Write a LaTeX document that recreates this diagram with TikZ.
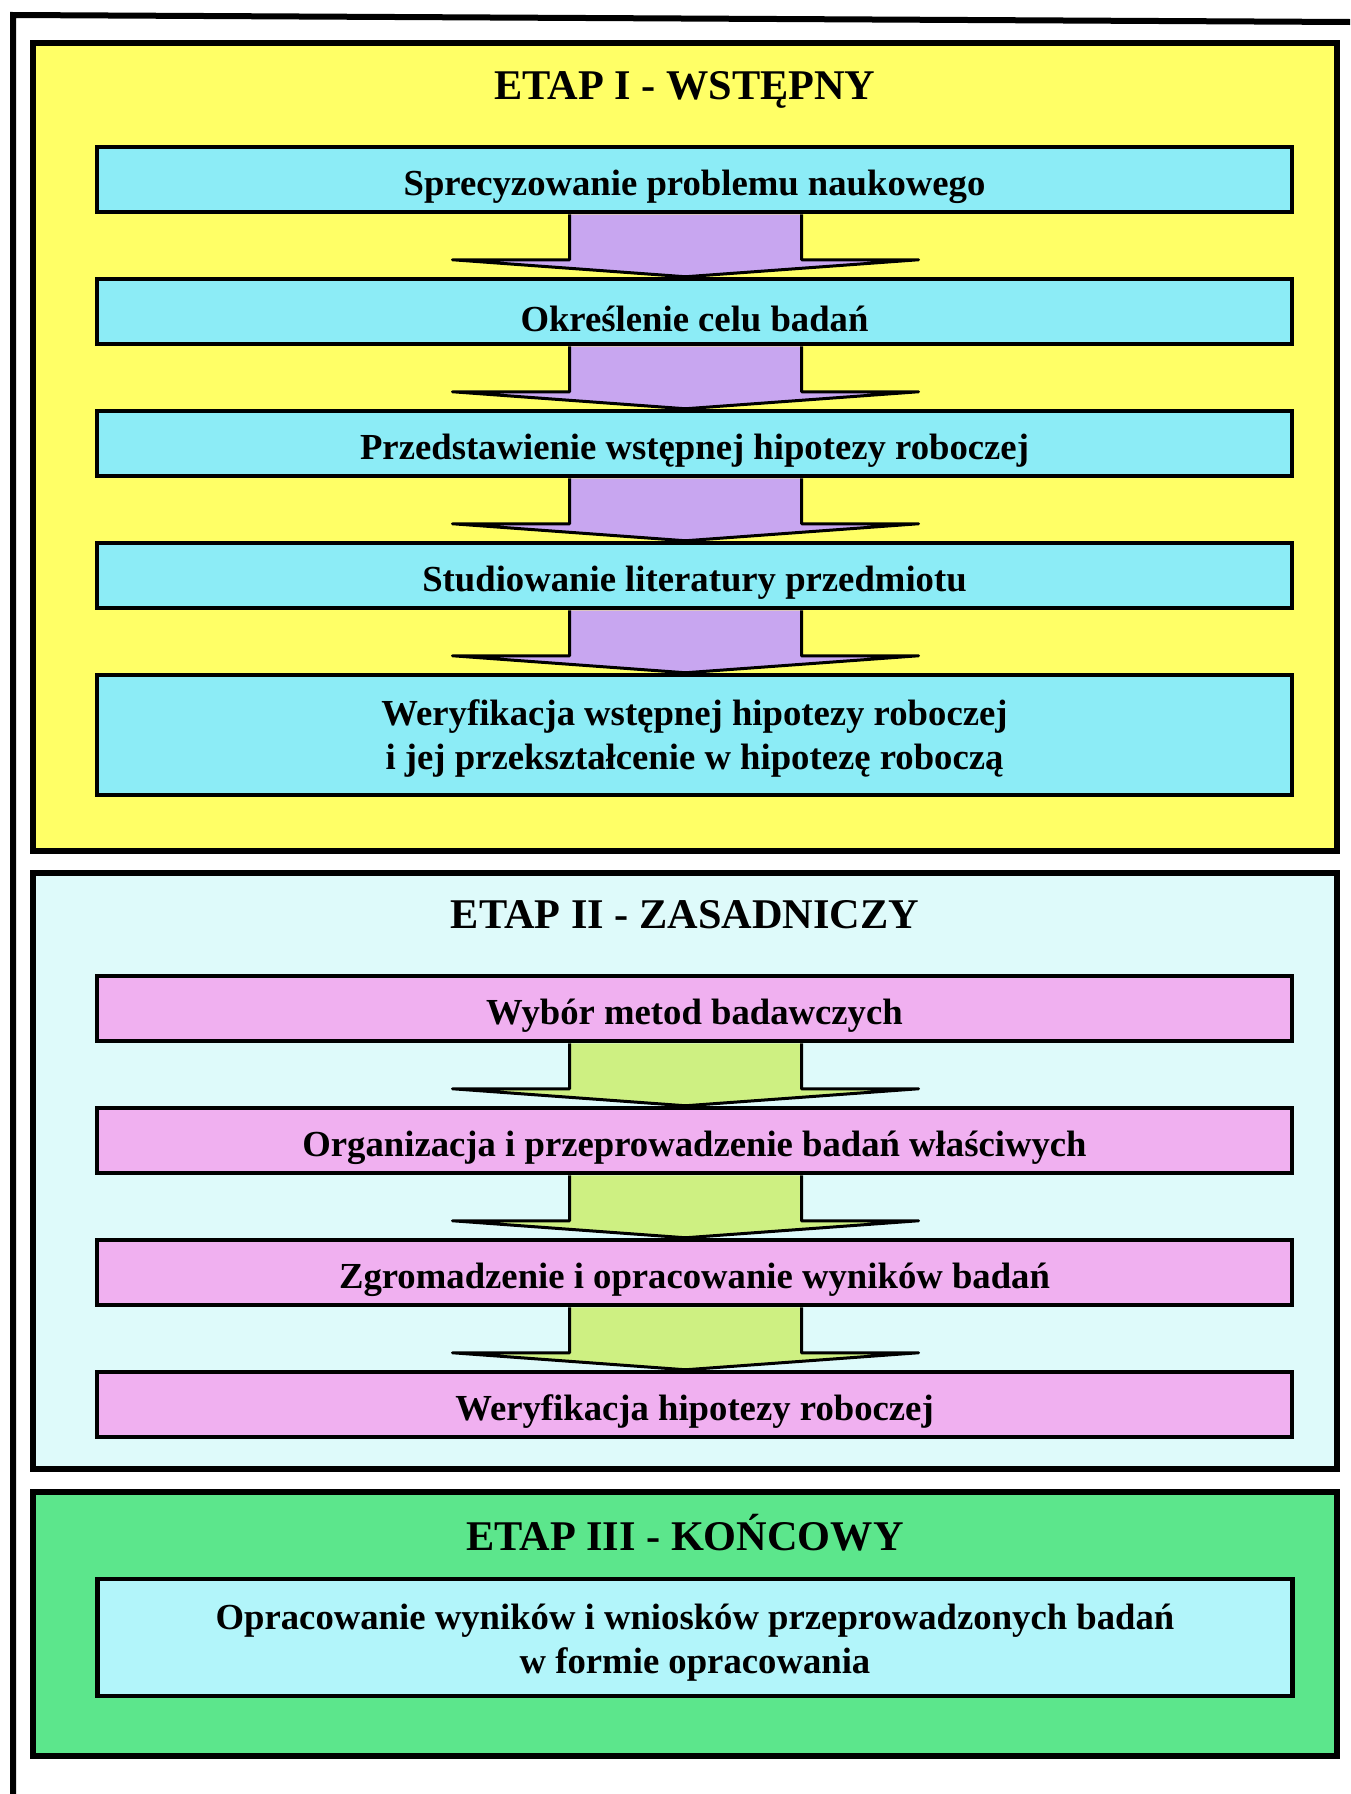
\documentclass[tikz,border=0pt]{standalone}
\usepackage{fontspec}
\setmainfont{Liberation Serif}
\usetikzlibrary{calc}
\definecolor{yelbg}{RGB}{255,255,102}
\definecolor{cyanbox}{RGB}{140,236,246}
\definecolor{purparrow}{RGB}{200,166,240}
\definecolor{lightbg}{RGB}{222,250,250}
\definecolor{pinkbox}{RGB}{240,176,240}
\definecolor{greenarrow}{RGB}{206,240,130}
\definecolor{greenbg}{RGB}{92,230,140}
\definecolor{lastbox}{RGB}{178,245,250}
\newcommand{\dn}[2][7pt]{\raisebox{-#1}[\height][\depth]{#2}}
\begin{document}
\begin{tikzpicture}[x=1pt,y=-1pt,
  stage/.style={draw=black, line width=6pt, minimum width=1304pt, inner sep=0pt},
  stepbox/.style={draw=black, line width=4.5pt, minimum width=1195pt, minimum height=65pt,
    inner sep=0pt, font=\fontsize{36.7}{44}\selectfont\bfseries, align=center},
  stagetitle/.style={font=\fontsize{42.3}{48}\selectfont\bfseries},
  bigarrow/.style={draw=black, line width=3pt, line join=round}]
\useasboundingbox (0,0) rectangle (1350,1794);
\fill[white] (0,0) rectangle (1350,1794);
% outer frame (top and left)
\draw[line width=6pt] (13,1794) -- (13,15) -- (1350,22);
% stages
\node[stage, fill=yelbg, minimum height=808pt] (s1) at (685,447) {};
\node[stage, fill=lightbg, minimum height=596pt] (s2) at (685,1171) {};
\node[stage, fill=greenbg, minimum height=264pt] (s3) at (685,1624) {};
\node[stagetitle] (t1) at (685,90) {ETAP I - WSTĘPNY};
\node[stagetitle] (t2) at (685,915) {ETAP II - ZASADNICZY};
\node[stagetitle] (t3) at (685,1533) {ETAP III - KOŃCOWY};
% stage I boxes
\node[stepbox, fill=cyanbox] (b1) at (694.5,179.5) {\dn{Sprecyzowanie problemu naukowego}};
\node[stepbox, fill=cyanbox] (b2) at (694.5,311.5) {\dn{Określenie celu badań}};
\node[stepbox, fill=cyanbox] (b3) at (694.5,443.5) {\dn{Przedstawienie wstępnej hipotezy roboczej}};
\node[stepbox, fill=cyanbox] (b4) at (694.5,575.5) {\dn{Studiowanie literatury przedmiotu}};
\node[stepbox, fill=cyanbox, minimum height=120pt] (b5) at (694.5,735) {\dn[3pt]{Weryfikacja wstępnej hipotezy roboczej}\\ \dn[3pt]{i jej przekształcenie w hipotezę roboczą}};
% stage II boxes
\node[stepbox, fill=pinkbox] (c1) at (694.5,1008.5) {\dn{Wybór metod badawczych}};
\node[stepbox, fill=pinkbox] (c2) at (694.5,1140.5) {\dn{Organizacja i przeprowadzenie badań właściwych}};
\node[stepbox, fill=pinkbox] (c3) at (694.5,1272.5) {\dn{Zgromadzenie i opracowanie wyników badań}};
\node[stepbox, fill=pinkbox] (c4) at (694.5,1404.5) {\dn{Weryfikacja hipotezy roboczej}};
% stage III box
\node[stepbox, fill=lastbox, minimum height=117pt] (d1) at (695,1637.5) {\dn[5pt]{Opracowanie wyników i wniosków przeprowadzonych badań}\\ \dn[5pt]{w formie opracowania}};
% arrows
\foreach \a/\b/\col in {b1/b2/purparrow, b2/b3/purparrow, b3/b4/purparrow, b4/b5/purparrow,
                        c1/c2/greenarrow, c2/c3/greenarrow, c3/c4/greenarrow}{
  \path[bigarrow, fill=\col] let \p1=(\a.south), \p2=(\b.north) in
    (\x1-125pt,\y1) -- (\x1-125pt,\y2+17pt) -- (\x1-242pt,\y2+17pt) -- (\x1-9pt,\y2)
    -- (\x1+224pt,\y2+17pt) -- (\x1+107pt,\y2+17pt) -- (\x1+107pt,\y1);
}
\end{tikzpicture}
\end{document}
